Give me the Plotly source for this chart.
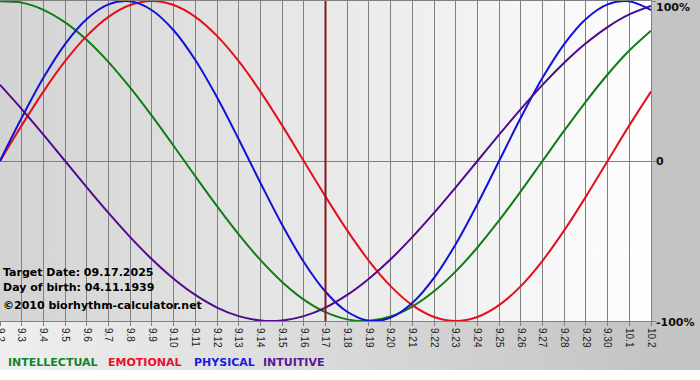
import base64
import plotly.graph_objects as go

# ---- data ----
dates = ["9.2", "9.3", "9.4", "9.5", "9.6", "9.7", "9.8", "9.9", "9.10", "9.11",
         "9.12", "9.13", "9.14", "9.15", "9.16", "9.17", "9.18", "9.19", "9.20",
         "9.21", "9.22", "9.23", "9.24", "9.25", "9.26", "9.27", "9.28", "9.29",
         "9.30", "10.1", "10.2"]

intellectual = [0.9989, 0.9898, 0.9450, 0.8660, 0.7557, 0.6182, 0.4582, 0.2817,
                0.0951, -0.0951, -0.2817, -0.4582, -0.6182, -0.7557, -0.8660,
                -0.9450, -0.9898, -0.9989, -0.9718, -0.9096, -0.8146, -0.6901,
                -0.5406, -0.3717, -0.1893, 0.0, 0.1893, 0.3717, 0.5406, 0.6901,
                0.8146]
emotional = [0.0, 0.2225, 0.4339, 0.6235, 0.7818, 0.9010, 0.9749, 1.0, 0.9749,
             0.9010, 0.7818, 0.6235, 0.4339, 0.2225, 0.0, -0.2225, -0.4339,
             -0.6235, -0.7818, -0.9010, -0.9749, -1.0, -0.9749, -0.9010,
             -0.7818, -0.6235, -0.4339, -0.2225, 0.0, 0.2225, 0.4339]
physical = [0.0, 0.2698, 0.5196, 0.7308, 0.8879, 0.9791, 0.9977, 0.9423, 0.8170,
            0.6311, 0.3984, 0.1362, -0.1362, -0.3984, -0.6311, -0.8170, -0.9423,
            -0.9977, -0.9791, -0.8879, -0.7308, -0.5196, -0.2698, 0.0, 0.2698,
            0.5196, 0.7308, 0.8879, 0.9791, 0.9977, 0.9423]
intuitive = [0.4759, 0.3247, 0.1646, 0.0, -0.1646, -0.3247, -0.4759, -0.6142,
             -0.7357, -0.8372, -0.9158, -0.9694, -0.9966, -0.9966, -0.9694,
             -0.9158, -0.8372, -0.7357, -0.6142, -0.4759, -0.3247, -0.1646, 0.0,
             0.1646, 0.3247, 0.4759, 0.6142, 0.7357, 0.8372, 0.9158, 0.9694]

series_names = ["INTELLECTUAL", "EMOTIONAL", "PHYSICAL", "INTUITIVE"]
series_values = [intellectual, emotional, physical, intuitive]
series_colors = ["#0f7d14", "#e3101c", "#1212d6", "#4e0c8c"]
legend_colors = ["#12862a", "#e8102a", "#1a1ae0", "#5a1696"]

target_date = "09.17.2025"
birth_date = "04.11.1939"
target_label = "9.17"
y_ticks = [1, 0, -1]
y_tick_text = ["100%", "0", "-100%"]


def grad_uri(c0, c1):
    svg = ('<svg xmlns="http://www.w3.org/2000/svg" width="200" height="20" '
           'preserveAspectRatio="none"><defs><linearGradient id="g" x1="0" '
           'x2="1" y1="0" y2="0"><stop offset="0" stop-color="%s"/>'
           '<stop offset="1" stop-color="%s"/></linearGradient></defs>'
           '<rect width="200" height="20" fill="url(#g)"/></svg>') % (c0, c1)
    return "data:image/svg+xml;base64," + base64.b64encode(svg.encode()).decode()


fig = go.Figure()
for name, vals, col in zip(series_names, series_values, series_colors):
    fig.add_trace(go.Scatter(x=dates, y=vals, mode="lines", name=name,
                             line=dict(color=col, width=2, shape="spline",
                                       smoothing=1.0),
                             showlegend=False, hoverinfo="skip"))

FONT = "DejaVu Sans"
annotations = []
# overlay texts
for txt, yv in [("Target Date: " + target_date, -0.694),
                ("Day of birth: " + birth_date, -0.7875),
                ("\u00a92010 biorhythm-calculator.net", -0.906)]:
    annotations.append(dict(xref="paper", x=0, xanchor="left", xshift=1,
                            yref="y", y=yv, yanchor="middle", showarrow=False,
                            text="<b>%s</b>" % txt,
                            font=dict(family=FONT, size=11, color="#000000")))
# y labels on the right
for v, t, sh in zip(y_ticks, y_tick_text, [-6, 0, -1]):
    annotations.append(dict(xref="paper", x=1, xanchor="left", xshift=3,
                            yref="y", y=v, yanchor="middle", yshift=sh,
                            showarrow=False, text="<b>%s</b>" % t,
                            font=dict(family=FONT, size=11, color="#111111")))
# colored legend row (below the plot, in paper coordinates)
legend_x = [6, 106, 192, 261]
for name, col, px in zip(series_names, legend_colors, legend_x):
    annotations.append(dict(xref="paper", x=px / 651.0, xanchor="left",
                            yref="paper", y=-41 / 320.0, yanchor="middle",
                            showarrow=False, text="<b>%s</b>" % name,
                            font=dict(family=FONT, size=11, color=col)))

images = [
    dict(source=grad_uri("#d3d3d3", "#fefefe"), xref="paper", yref="paper",
         x=0, y=1, sizex=1, sizey=1, xanchor="left", yanchor="top",
         sizing="stretch", layer="below"),
    dict(source=grad_uri("#efefef", "#c4c4c4"), xref="paper", yref="paper",
         x=0, y=0, sizex=1, sizey=49 / 320.0, xanchor="left", yanchor="top",
         sizing="stretch", layer="below"),
]

shapes = [
    dict(type="rect", xref="paper", yref="paper", x0=1, x1=1.1, y0=-0.153,
         y1=1.01, fillcolor="#c4c4c4", line=dict(width=0), layer="below"),
    dict(type="line", xref="x", yref="paper", x0=dates.index(target_label),
         x1=dates.index(target_label), y0=0, y1=1,
         line=dict(color="#861818", width=2), layer="above"),
]

fig.update_layout(
    width=700, height=380,
    margin=dict(l=0, r=49, t=1, b=59, pad=0),
    paper_bgcolor="#ffffff",
    plot_bgcolor="rgba(0,0,0,0)",
    images=images, shapes=shapes, annotations=annotations,
    showlegend=False,
    xaxis=dict(type="category", categoryorder="array", categoryarray=dates,
               range=[0, len(dates) - 1], showgrid=True, gridcolor="#808080",
               gridwidth=1, showline=True, linecolor="#808080", linewidth=1,
               mirror=True, ticks="outside", ticklen=4, tickcolor="#808080",
               tickangle=90, tickfont=dict(family="Liberation Sans", size=10,
                                           color="#222222"),
               automargin=False, fixedrange=True, zeroline=False),
    yaxis=dict(range=[-1, 1], side="right", tickvals=y_ticks,
               showticklabels=False, ticks="outside", ticklen=4,
               tickcolor="#808080", showgrid=False, zeroline=True,
               zerolinecolor="#808080", zerolinewidth=1, showline=True,
               linecolor="#808080", mirror=True, automargin=False,
               fixedrange=True),
)

fig.write_html("out.html",
               config={"displayModeBar": False, "staticPlot": True},
               post_script="document.body.style.margin='0';"
                           "document.body.style.padding='0';")
